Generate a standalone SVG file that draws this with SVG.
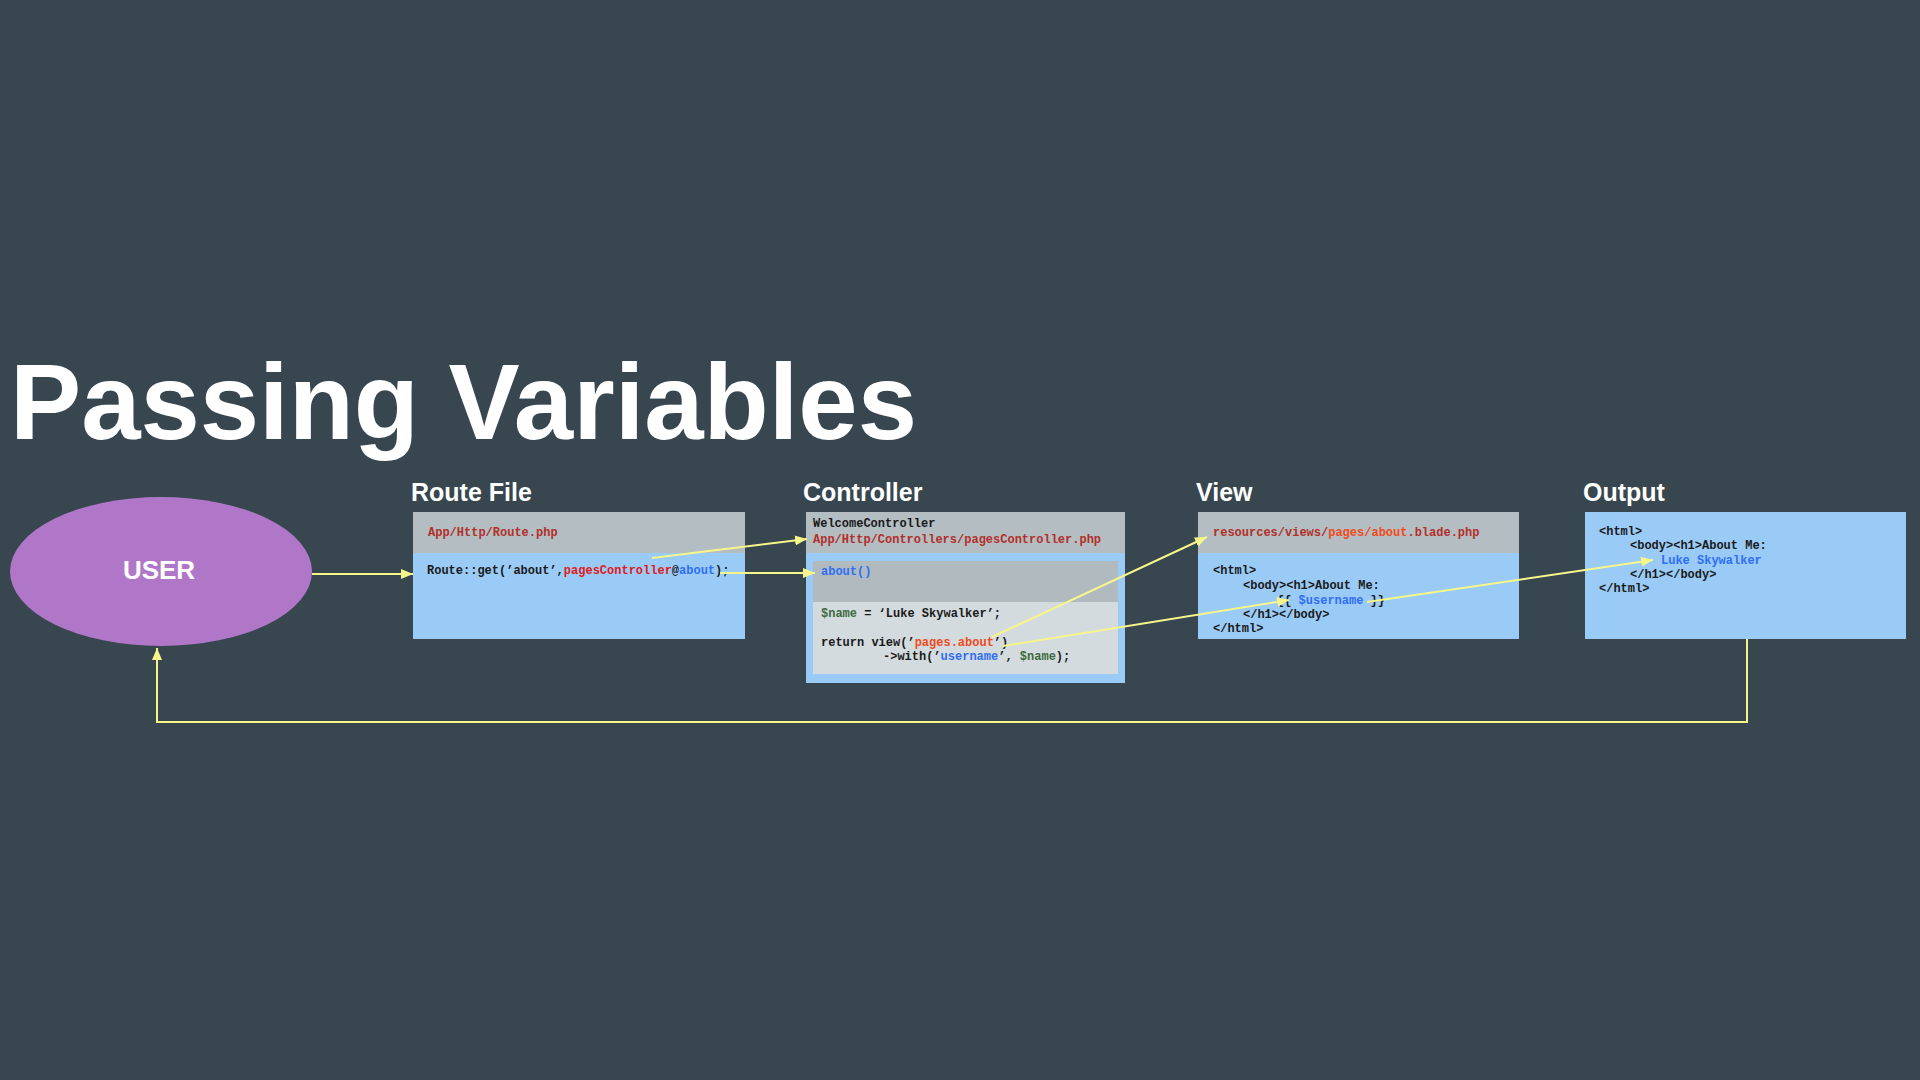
<svg xmlns="http://www.w3.org/2000/svg" width="1920" height="1080" viewBox="0 0 1920 1080">
<defs>
<marker id="ah" viewBox="0 0 12 10" refX="12" refY="5" markerWidth="12" markerHeight="10" markerUnits="userSpaceOnUse" orient="auto">
<path d="M0,0 L12,5 L0,10 Z" fill="#f6f68a"/>
</marker>
<style>
.bg{fill:#37464f}
.hdr{fill:#b3bdc2}
.blue{fill:#99cbf6}
.dgray{fill:#b0babf}
.lgray{fill:#d3dbdf}
.lbl{font-family:"Liberation Sans",Arial,sans-serif;font-weight:bold;font-size:25px;fill:#ffffff}
.code{font-family:"Liberation Mono","Courier New",monospace;font-weight:bold;font-size:12px;fill:#1a1a1a}
.dred{fill:#b2302a}
.red{fill:#e01a1a}
.blu{fill:#2f6ef5}
.org{fill:#f04a20}
.grn{fill:#3d6b3d}
.conn{fill:none;stroke:#f6f68a;stroke-width:2}
</style>
</defs>
<rect class="bg" x="0" y="0" width="1920" height="1080"/>
<text x="10" y="439" font-family="Liberation Sans, Arial, sans-serif" font-weight="bold" font-size="107" fill="#ffffff" textLength="907" lengthAdjust="spacingAndGlyphs">Passing Variables</text>

<g id="user">
<ellipse cx="161" cy="571.5" rx="151" ry="74.5" fill="#b077c8"/>
<text x="159" y="579" text-anchor="middle" font-family="Liberation Sans, Arial, sans-serif" font-weight="bold" font-size="26" fill="#ffffff">USER</text>
</g>

<g id="route-file">
<text class="lbl" x="411" y="501">Route File</text>
<rect class="blue" x="413" y="512" width="332" height="127"/>
<rect class="hdr" x="413" y="512" width="332" height="41"/>
<text class="code dred" x="428" y="536">App/Http/Route.php</text>
<text class="code" x="427" y="574">Route::get(’about’,<tspan class="red">pagesController</tspan>@<tspan class="blu">about</tspan>);</text>
</g>

<g id="controller">
<text class="lbl" x="803" y="501">Controller</text>
<rect class="blue" x="806" y="512" width="319" height="171"/>
<rect class="hdr" x="806" y="512" width="319" height="41"/>
<text class="code" x="813" y="527">WelcomeController</text>
<text class="code dred" x="813" y="543">App/Http/Controllers/pagesController.php</text>
<rect class="dgray" x="813" y="561" width="305" height="41"/>
<rect class="lgray" x="813" y="602" width="305" height="72"/>
<text class="code blu" x="821" y="575">about()</text>
<text class="code" x="821" y="617"><tspan class="grn">$name</tspan> = ‘Luke Skywalker’;</text>
<text class="code" x="821" y="646">return view(’<tspan class="org">pages.about</tspan>’)</text>
<text class="code" x="883" y="660">-&gt;with(’<tspan class="blu">username</tspan>’, <tspan class="grn">$name</tspan>);</text>
</g>

<g id="view">
<text class="lbl" x="1196" y="501">View</text>
<rect class="blue" x="1198" y="512" width="321" height="127"/>
<rect class="hdr" x="1198" y="512" width="321" height="41"/>
<text class="code dred" x="1213" y="536">resources/views/<tspan class="org">pages/about</tspan>.blade.php</text>
<text class="code" x="1213" y="574">&lt;html&gt;</text>
<text class="code" x="1243" y="589">&lt;body&gt;&lt;h1&gt;About Me:</text>
<text class="code" x="1277" y="604">{{ <tspan class="blu">$username</tspan> }}</text>
<text class="code" x="1243" y="618">&lt;/h1&gt;&lt;/body&gt;</text>
<text class="code" x="1213" y="632">&lt;/html&gt;</text>
</g>

<g id="output">
<text class="lbl" x="1583" y="501">Output</text>
<rect class="blue" x="1585" y="512" width="321" height="127"/>
<text class="code" x="1599" y="535">&lt;html&gt;</text>
<text class="code" x="1630" y="549">&lt;body&gt;&lt;h1&gt;About Me:</text>
<text class="code blu" x="1661" y="564">Luke Skywalker</text>
<text class="code" x="1630" y="578">&lt;/h1&gt;&lt;/body&gt;</text>
<text class="code" x="1599" y="592">&lt;/html&gt;</text>
</g>

<g id="connectors">
<line class="conn" x1="312" y1="574" x2="413" y2="574" marker-end="url(#ah)"/>
<line class="conn" x1="652" y1="558" x2="807" y2="539" marker-end="url(#ah)"/>
<line class="conn" x1="720" y1="573" x2="815" y2="573" marker-end="url(#ah)"/>
<line class="conn" x1="992" y1="637" x2="1207" y2="537" marker-end="url(#ah)"/>
<line class="conn" x1="1003" y1="646" x2="1289" y2="600" marker-end="url(#ah)"/>
<line class="conn" x1="1367" y1="602" x2="1653" y2="560" marker-end="url(#ah)"/>
<polyline class="conn" points="1747,639 1747,722 157,722 157,648" marker-end="url(#ah)"/>
</g>
</svg>
